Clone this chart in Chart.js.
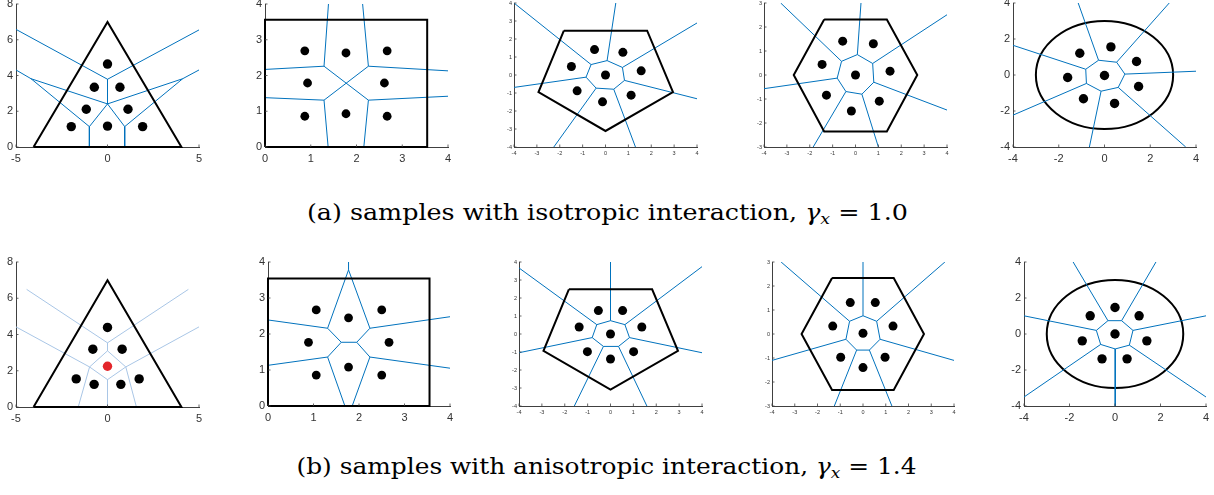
<!DOCTYPE html>
<html>
<head>
<meta charset="utf-8">
<script src="https://cdn.jsdelivr.net/npm/chart.js@4.4.1/dist/chart.umd.min.js"></script>
<style>
  body { margin: 0; background: #fff; width: 1214px; height: 495px; overflow: hidden; position: relative; }
  canvas { position: absolute; }
  .cap { position: absolute; left: 0; width: 1214px; text-align: center; white-space: nowrap;
         font-family: "DejaVu Serif", "Liberation Serif", serif; font-size: 22px; color: #000; line-height: 30px; }
  .cap span { display: inline-block; transform-origin: 50% 50%; }
  .cap sub { font-size: 15px; vertical-align: -4px; line-height: 0; }
</style>
</head>
<body>
<div class="cap" id="capA" style="top:198px"><span>(a) samples with isotropic interaction, <i>γ<sub>x</sub></i> = 1.0</span></div>
<div class="cap" id="capB" style="top:452px"><span>(b) samples with anisotropic interaction, <i>γ<sub>x</sub></i> = 1.4</span></div>

<script>
// ---- tick labels ----
const ticksTri = { x: [-5, 0, 5], y: [0, 2, 4, 6, 8] };
const ticksSq = { x: [0, 1, 2, 3, 4], y: [0, 1, 2, 3, 4] };
const ticksPent = { x: [-4, -3, -2, -1, 0, 1, 2, 3, 4], y: [-4, -3, -2, -1, 0, 1, 2, 3, 4] };
const ticksHex = { x: [-4, -3, -2, -1, 0, 1, 2, 3, 4], y: [-3, -2, -1, 0, 1, 2, 3] };
const ticksCirc = { x: [-4, -2, 0, 2, 4], y: [-4, -2, 0, 2, 4] };

// ---- (a) isotropic ----
const triA_bound = [[-4.04, 0], [0, 7], [4.04, 0]];
const triA_pts = [[0, 4.64], [-0.72, 3.34], [0.68, 3.34], [-1.16, 2.11], [1.12, 2.11], [-1.98, 1.14], [0, 1.17], [1.92, 1.14]];
const triA_edges = [
  [[0, 3.79], [0, 2.41]], [[0, 3.79], [-5, 6.58]], [[0, 3.79], [5, 6.55]],
  [[0, 2.41], [-4.18, 3.82]], [[0, 2.41], [4.11, 3.82]], [[0, 2.41], [-0.99, 1.14]], [[0, 2.41], [0.94, 1.14]],
  [[-4.18, 3.82], [-5, 4.31]], [[4.11, 3.82], [5, 4.31]],
  [[-4.18, 3.82], [-0.99, 1.14]], [[4.11, 3.82], [0.94, 1.14]],
  [[-0.99, 1.14], [-0.99, 0]], [[0.94, 1.14], [0.94, 0]]
];

const sqA_bound = [[0, 0], [3.545, 0], [3.545, 3.56], [0, 3.56]];
const sqA_pts = [[0.87, 2.69], [1.77, 2.63], [2.67, 2.69], [0.93, 1.79], [2.61, 1.79], [0.87, 0.86], [1.77, 0.93], [2.67, 0.86]];
const sqA_edges = [
  [[1.29, 2.26], [1.39, 4.05]], [[2.26, 2.26], [2.13, 4.05]],
  [[1.29, 2.26], [0, 2.17]], [[2.26, 2.26], [4, 2.13]],
  [[1.29, 2.26], [2.26, 1.31]], [[2.26, 2.26], [1.29, 1.31]],
  [[1.29, 1.31], [0, 1.38]], [[2.26, 1.31], [4, 1.42]],
  [[1.29, 1.31], [1.38, 0]], [[2.26, 1.31], [2.16, 0]]
];

const pentA_bound = [[-1.82, 2.46], [1.82, 2.46], [2.95, -0.95], [0, -3.11], [-2.93, -0.95]];
const pentA_pts = [[-0.48, 1.41], [0.76, 1.26], [-1.49, 0.47], [1.56, 0.23], [0, 0], [-1.24, -0.88], [1.12, -1.12], [-0.13, -1.49]];
const pentA_cell = [[0.07, 0.80], [0.74, 0.42], [0.83, -0.30], [0.36, -0.79], [-0.41, -0.73], [-0.85, -0.12], [-0.63, 0.58]];
const pentA_rays = [[0.45, 4], [4, 2.89], [4, -1.32], [1.31, -4], [-2.26, -4], [-4, -0.69], [-4, 4]];

const hexA_bound = [[-1.37, 2.31], [1.37, 2.31], [2.70, 0], [1.37, -2.35], [-1.37, -2.35], [-2.70, 0]];
const hexA_pts = [[-0.56, 1.41], [0.78, 1.30], [-1.46, 0.44], [1.51, 0.16], [0, 0], [-1.27, -0.84], [1.04, -1.09], [-0.18, -1.5]];
const hexA_cell = [[0.08, 0.85], [0.75, 0.48], [0.80, -0.30], [0.28, -0.80], [-0.42, -0.69], [-0.80, -0.13], [-0.61, 0.57]];
const hexA_rays = [[0.24, 3], [4, 2.51], [4, -1.46], [1.0, -3], [-1.85, -3], [-4, -0.57], [-3.27, 3]];

const circA_r = 3;
const circA_pts = [[0.28, 1.56], [-1.08, 1.21], [1.40, 0.75], [-1.61, -0.14], [0, -0.03], [1.49, -0.64], [-0.92, -1.32], [0.44, -1.58]];
const circA_cell = [[-0.26, 0.82], [0.53, 0.71], [0.89, 0.05], [0.60, -0.69], [-0.15, -0.90], [-0.79, -0.47], [-0.82, 0.32]];
const circA_rays = [[-1.15, 4], [2.83, 4], [4, 0.21], [3.55, -4], [-0.66, -4], [-4, -2.23], [-4, 1.65]];

// ---- (b) anisotropic ----
const triB_bound = [[-4.04, 0], [0, 7], [4.04, 0]];
const triB_pts = [[0, 4.39], [-0.8, 3.19], [0.8, 3.19], [-1.71, 1.55], [-0.73, 1.25], [0.73, 1.25], [1.73, 1.55]];
const triB_red = [[0, 2.25]];
const triB_edges = [
  [[0, 3.54], [-4.42, 6.49]], [[0, 3.54], [4.42, 6.49]], [[0, 3.54], [0, 3.10]],
  [[0, 3.10], [-0.98, 2.21]], [[0, 3.10], [1.0, 2.21]],
  [[-0.98, 2.21], [-5, 4.42]], [[1.0, 2.21], [5, 4.42]],
  [[-0.98, 2.21], [0, 1.51]], [[1.0, 2.21], [0, 1.51]], [[0, 1.51], [0, 0]],
  [[-0.98, 2.21], [-1.6, 0]], [[1.0, 2.21], [1.58, 0]]
];

const sqB_bound = [[0, 0], [3.55, 0], [3.55, 3.54], [0, 3.54]];
const sqB_pts = [[1.06, 2.67], [1.77, 2.45], [2.5, 2.67], [0.89, 1.77], [2.66, 1.77], [1.77, 1.08], [1.06, 0.86], [2.5, 0.86]];
const sqB_edges = [
  [[1.77, 3.78], [1.77, 4]], [[1.77, 3.78], [1.31, 2.16]], [[1.77, 3.78], [2.24, 2.16]],
  [[1.31, 2.16], [0, 2.39]], [[2.24, 2.16], [4, 2.48]],
  [[1.31, 2.16], [1.61, 1.77]], [[2.24, 2.16], [1.95, 1.77]], [[1.61, 1.77], [1.95, 1.77]],
  [[1.61, 1.77], [1.31, 1.36]], [[1.95, 1.77], [2.24, 1.36]],
  [[1.31, 1.36], [0, 1.13]], [[2.24, 1.36], [4, 1.05]],
  [[1.31, 1.36], [1.69, 0]], [[2.24, 1.36], [1.85, 0]]
];

const pentB_bound = [[-1.82, 2.48], [1.82, 2.48], [2.95, -0.94], [0, -3.09], [-2.93, -0.94]];
const pentB_pts = [[-0.53, 1.30], [0.53, 1.30], [-1.37, 0.39], [1.37, 0.39], [0, 0], [-1.01, -0.98], [1.01, -0.98], [0, -1.39]];
const pentB_cell = [[0, 0.74], [0.63, 0.52], [0.83, -0.20], [0.35, -0.69], [-0.31, -0.69], [-0.80, -0.20], [-0.60, 0.52]];
const pentB_rays = [[0, 4], [4, 3.74], [4, -1.04], [1.59, -4], [-1.58, -4], [-4, -1.04], [-4, 3.67]];

const hexB_bound = [[-1.36, 2.33], [1.35, 2.33], [2.68, 0], [1.35, -2.33], [-1.36, -2.33], [-2.7, 0]];
const hexB_pts = [[-0.56, 1.31], [0.54, 1.31], [-1.33, 0.33], [1.32, 0.33], [0, 0.03], [-0.98, -0.97], [0.97, -0.97], [0, -1.4]];
const hexB_cell = [[0, 0.76], [0.60, 0.53], [0.75, -0.22], [0.28, -0.67], [-0.28, -0.67], [-0.75, -0.22], [-0.59, 0.53]];
const hexB_rays = [[0, 3], [3.6, 3], [4, -1.1], [1.27, -3], [-1.26, -3], [-4, -1.1], [-3.6, 3]];

const circB_r = 3;
const circB_pts = [[0, 1.47], [-1.09, 1.01], [1.06, 1.01], [-1.44, -0.38], [0, 0], [1.40, -0.38], [-0.57, -1.38], [0.53, -1.38]];
const circB_cell = [[-0.31, 0.74], [0.29, 0.74], [0.79, 0.20], [0.63, -0.62], [0.01, -0.83], [-0.63, -0.58], [-0.82, 0.20]];
const circB_rays = [[-1.84, 4], [1.8, 4], [4, 1.01], [4, -3.5], [0.01, -4], [-4, -3.5], [-4, 1.01]];

const BLUE = '#0072BD';
const PALE = '#a9c6e6';
const AXIS = '#404040';

const xy = p => ({ x: p[0], y: p[1] });

// Voronoi edges from a central cell plus one ray per cell vertex
function cellEdges(cell, rays) {
  const out = [];
  cell.forEach((p, i) => {
    out.push([p, cell[(i + 1) % cell.length]]);
    out.push([p, rays[i]]);
  });
  return out;
}

const inwardTicks = {
  id: 'inwardTicks',
  afterDraw(chart) {
    const { ctx, chartArea: a, scales: { x, y } } = chart;
    ctx.save();
    ctx.strokeStyle = AXIS;
    ctx.lineWidth = 0.8;
    ctx.beginPath();
    x.ticks.forEach(t => {
      const px = x.getPixelForValue(t.value);
      ctx.moveTo(px, a.bottom); ctx.lineTo(px, a.bottom - 2.5);
    });
    y.ticks.forEach(t => {
      const py = y.getPixelForValue(t.value);
      ctx.moveTo(a.left, py); ctx.lineTo(a.left + 2.5, py);
    });
    ctx.stroke();
    ctx.restore();
  }
};

const ring = {
  id: 'ring',
  beforeDatasetsDraw(chart, args, opts) {
    if (!opts.r) return;
    const { ctx, scales: { x, y } } = chart;
    const cx = x.getPixelForValue(0), cy = y.getPixelForValue(0);
    ctx.save();
    ctx.strokeStyle = '#000';
    ctx.lineWidth = 2;
    ctx.beginPath();
    ctx.ellipse(cx, cy, x.getPixelForValue(opts.r) - cx, cy - y.getPixelForValue(opts.r), 0, 0, Math.PI * 2);
    ctx.stroke();
    ctx.restore();
  }
};

function panel(o) {
  const small = !!o.small;
  const W = small ? 20 : 30, H = small ? 18 : 26, padT = 10, padR = 12;
  const [l, t, r, b] = o.area;
  const cv = document.createElement('canvas');
  cv.width = W + (r - l) + padR;
  cv.height = padT + (b - t) + H;
  cv.style.left = (l - W) + 'px';
  cv.style.top = (t - padT) + 'px';
  document.body.appendChild(cv);

  const datasets = [];
  datasets.push({ data: o.pts.map(xy), pointRadius: o.dot, pointBackgroundColor: '#000', pointBorderWidth: 0, showLine: false, order: 0 });
  if (o.red) datasets.push({ data: o.red.map(xy), pointRadius: o.dot, pointBackgroundColor: '#e3262b', pointBorderWidth: 0, showLine: false, order: 0 });
  if (o.bound) {
    datasets.push({ data: o.bound.concat([o.bound[0]]).map(xy), showLine: true, borderColor: '#000', borderWidth: 2,
      pointRadius: 0, order: 1, clip: false });
  }
  o.edges.forEach(e => datasets.push({ data: e.map(xy), showLine: true, borderColor: o.edgeColor || BLUE,
    borderWidth: o.edgeWidth || 1, pointRadius: 0, order: 2 }));

  const fontSize = small ? 5.5 : 11;
  const axis = (vals, pos, min, max) => ({
    type: 'linear', position: pos, min, max,
    afterBuildTicks: s => { s.ticks = vals.map(v => ({ value: v })); },
    afterFit: s => { if (pos === 'left') s.width = W; else s.height = H; },
    grid: { display: false, drawTicks: false },
    border: { display: true, color: AXIS, width: 1 },
    ticks: { color: '#333', padding: pos === 'left' ? (small ? 2 : 3) : (small ? 3.5 : 5),
      font: { family: 'Liberation Sans, Arial, sans-serif', size: fontSize },
      maxRotation: 0, autoSkip: false, callback: v => String(v) }
  });

  new Chart(cv, {
    type: 'scatter',
    data: { datasets },
    options: {
      responsive: false, animation: false, events: [], devicePixelRatio: 1,
      layout: { padding: { top: padT, right: padR, left: 0, bottom: 0 } },
      plugins: { legend: { display: false }, tooltip: { enabled: false }, ring: { r: o.circle || 0 } },
      scales: {
        x: axis(o.ticks.x, 'bottom', o.ticks.x[0], o.ticks.x[o.ticks.x.length - 1]),
        y: axis(o.ticks.y, 'left', o.ticks.y[0], o.ticks.y[o.ticks.y.length - 1])
      }
    },
    plugins: [ring, inwardTicks]
  });
}

// row (a)
panel({ area: [16, 4, 199, 147], ticks: ticksTri, bound: triA_bound, pts: triA_pts, edges: triA_edges, dot: 4.7 });
panel({ area: [265, 4, 448, 147], ticks: ticksSq, bound: sqA_bound, pts: sqA_pts, edges: sqA_edges, dot: 4.4 });
panel({ area: [514, 3, 697, 147], ticks: ticksPent, bound: pentA_bound, pts: pentA_pts, edges: cellEdges(pentA_cell, pentA_rays), dot: 4.5, small: true });
panel({ area: [764, 3, 947, 147], ticks: ticksHex, bound: hexA_bound, pts: hexA_pts, edges: cellEdges(hexA_cell, hexA_rays), dot: 4.5, small: true });
panel({ area: [1013, 3, 1196, 147], ticks: ticksCirc, circle: circA_r, pts: circA_pts, edges: cellEdges(circA_cell, circA_rays), dot: 4.7 });
// row (b)
panel({ area: [16, 262, 199, 407], ticks: ticksTri, bound: triB_bound, pts: triB_pts, red: triB_red, edges: triB_edges, dot: 4.7, edgeColor: PALE, edgeWidth: 1 });
panel({ area: [268, 262, 450, 406], ticks: ticksSq, bound: sqB_bound, pts: sqB_pts, edges: sqB_edges, dot: 4.4 });
panel({ area: [519, 262, 702, 406], ticks: ticksPent, bound: pentB_bound, pts: pentB_pts, edges: cellEdges(pentB_cell, pentB_rays), dot: 4.5, small: true });
panel({ area: [772, 262, 954, 406], ticks: ticksHex, bound: hexB_bound, pts: hexB_pts, edges: cellEdges(hexB_cell, hexB_rays), dot: 4.5, small: true });
panel({ area: [1024, 262, 1206, 406], ticks: ticksCirc, circle: circB_r, pts: circB_pts, edges: cellEdges(circB_cell, circB_rays), dot: 4.7 });

// stretch captions to the reference text widths
[['capA', 601], ['capB', 620]].forEach(([id, w]) => {
  const s = document.querySelector('#' + id + ' span');
  s.style.transform = 'scaleX(' + (w / s.getBoundingClientRect().width) + ')';
});
</script>
</body>
</html>
